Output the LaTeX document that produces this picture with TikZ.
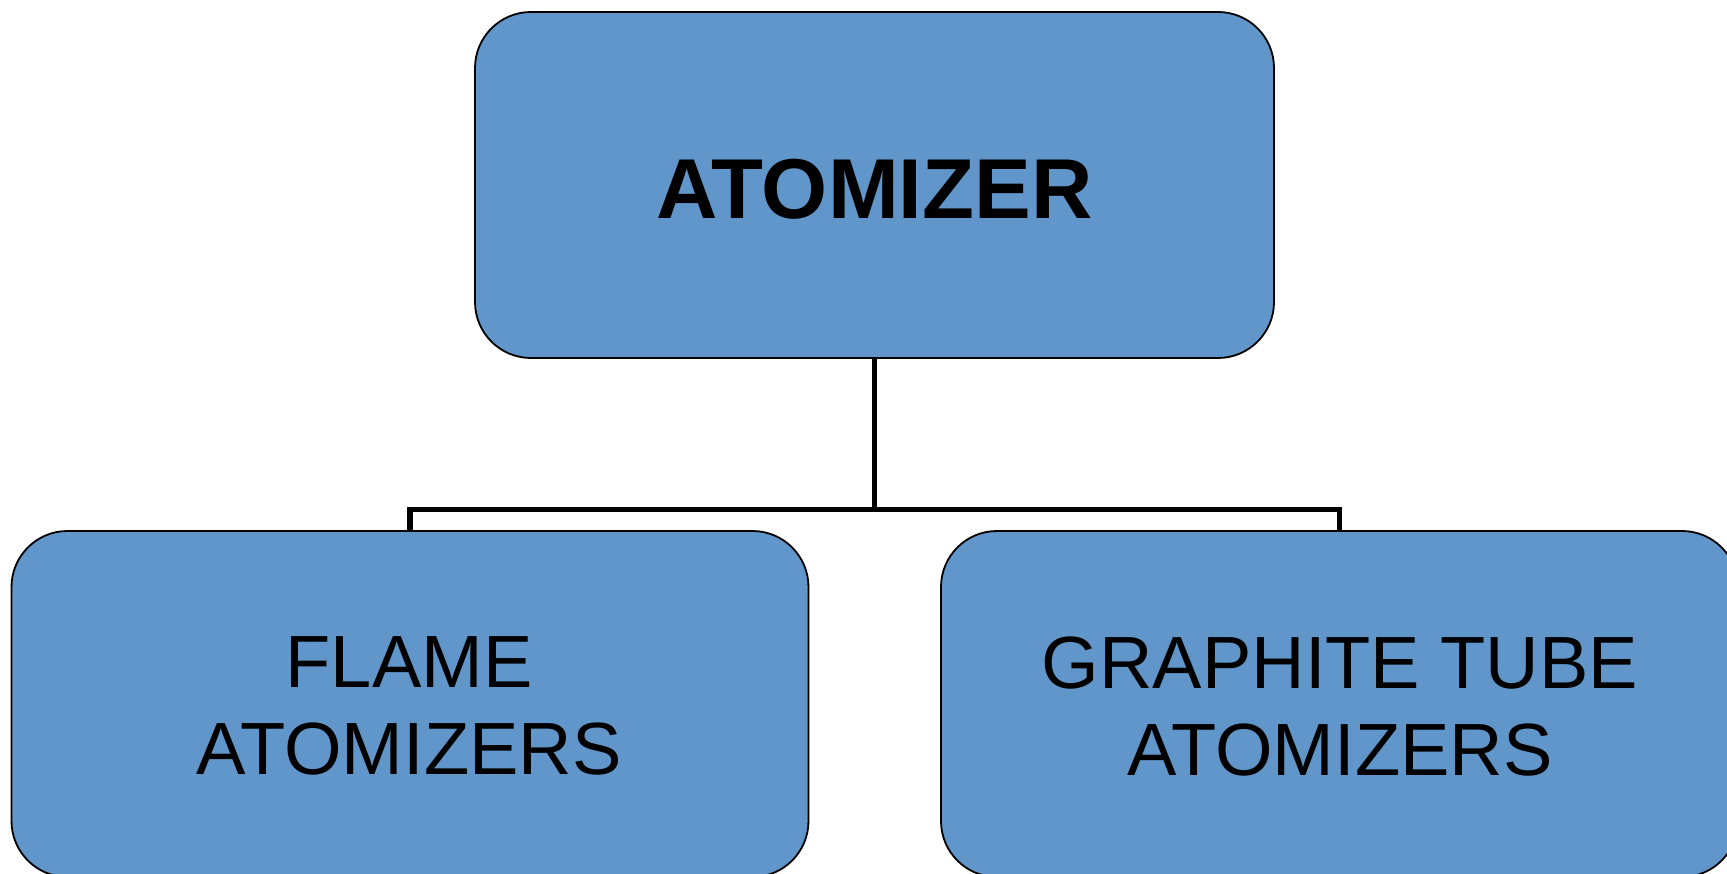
\documentclass[tikz,border=0pt]{standalone}
\usepackage{fontspec}
\setmainfont{Liberation Sans}
\definecolor{boxblue}{RGB}{96,150,201}
\tikzset{
  box/.style={draw=black, line width=1.8pt, fill=boxblue, rounded corners=56pt, inner sep=0pt},
  topbox/.style={box, minimum width=799pt, minimum height=346pt},
  subbox/.style={box, minimum width=797pt, minimum height=346pt},
  toptext/.style={inner sep=0pt, anchor=base, font=\bfseries\fontsize{85}{100}\selectfont},
  subtext/.style={inner sep=0pt, anchor=north, align=center, font=\fontsize{74}{87}\selectfont},
  link/.style={draw=black, line width=5.8pt, line join=miter}
}
\begin{document}
\begin{tikzpicture}[x=1pt, y=-1pt]
\useasboundingbox (0,0) rectangle (1727,874);
\clip (0,0) rectangle (1727,874);
\node[topbox] (top) at (874.5,185) {};
\node[subbox] (flame) at (410,704) {};
\node[subbox] (graph) at (1339.5,704) {};
\node[toptext] (toplbl) at (874.5,219) {ATOMIZER};
\node[subtext] (flamelbl) at (409,636.5) {FLAME\\ATOMIZERS};
\node[subtext] (graphlbl) at (1340,636.5) {GRAPHITE TUBE\\ATOMIZERS};
\coordinate (j) at (874.5,509.5);
\draw[link] (top.south) -- (j);
\draw[link] (j) -| (flame.north);
\draw[link] (j) -| (graph.north);
\end{tikzpicture}
\end{document}
